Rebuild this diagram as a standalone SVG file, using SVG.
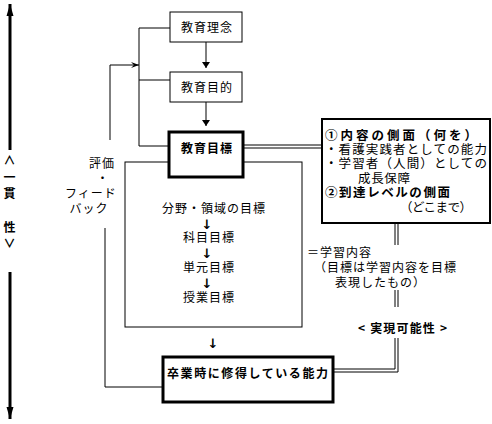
<svg xmlns="http://www.w3.org/2000/svg" width="492" height="424" viewBox="0 0 492 424">
<style>
text{font-family:"Noto Sans CJK JP","Noto Sans CJK SC",sans-serif;font-size:12px;fill:#000;letter-spacing:1px}
.b{font-weight:bold}
.m{text-anchor:middle}
.ar{font-family:"DejaVu Sans",sans-serif;font-size:13px;font-weight:bold;letter-spacing:0}
.r{font-size:12.5px;letter-spacing:0}
.ln{stroke:#000;stroke-width:1;fill:none}
.box{fill:#fff;stroke:#000;stroke-width:1}
.tbox{fill:#fff;stroke:#000;stroke-width:3}
.rbox{fill:#fff;stroke:#000;stroke-width:2}
</style>
<defs>
<marker id="ah" viewBox="0 0 6 10" refX="6" refY="5" markerWidth="6" markerHeight="10" orient="auto" markerUnits="userSpaceOnUse"><path d="M0,1 L6,5 L0,9 z" fill="#000"/></marker>
<marker id="bh" viewBox="0 0 12 8" refX="12" refY="4" markerWidth="12" markerHeight="8" orient="auto" markerUnits="userSpaceOnUse"><path d="M0,0.5 L12,4 L0,7.5 z" fill="#000"/></marker>
<marker id="fh" viewBox="0 0 8 8" refX="8" refY="4" markerWidth="8" markerHeight="8" orient="auto" markerUnits="userSpaceOnUse"><path d="M0,1 L8,4 L0,7 L3,4 z" fill="#000"/></marker>
</defs>
<rect width="492" height="424" fill="#fff"/>
<g id="connectors">
<line class="ln" x1="10" y1="150" x2="10" y2="4" style="stroke-width:3" marker-end="url(#bh)"/>
<line class="ln" x1="10" y1="272" x2="10" y2="419" style="stroke-width:3" marker-end="url(#bh)"/>
<path class="ln" d="M170,28 H139 V146 H169"/>
<line class="ln" x1="139" y1="80" x2="170" y2="80"/>
<path class="ln" d="M110,140 V65 H139" marker-end="url(#fh)"/>
<path class="ln" d="M105,228 V387 H163"/>
<line class="ln" x1="206" y1="42" x2="206" y2="68" marker-end="url(#ah)"/>
<line class="ln" x1="206" y1="102" x2="206" y2="126" marker-end="url(#ah)"/>
<line class="ln" x1="206" y1="177" x2="206" y2="193" marker-end="url(#ah)"/>
<path class="ln" d="M243,145 H322 M243,148 H322"/>
<path class="ln" d="M395,223 V245 M398,223 V245 M395,290 V307 M398,290 V307"/>
<path class="ln" d="M395,338 V369 H333 M398,338 V372 H333"/>
</g>
<g id="scope">
<rect class="box" x="125" y="162" width="177" height="165"/>
<text class="m" x="214" y="213">分野・領域の目標</text>
<text class="m ar" x="207" y="229">↓</text>
<text class="m" x="209" y="242">科目目標</text>
<text class="m ar" x="207" y="258">↓</text>
<text class="m" x="209" y="272">単元目標</text>
<text class="m ar" x="207" y="288">↓</text>
<text class="m" x="209" y="302">授業目標</text>
</g>
<g id="n-rinen">
<rect class="box" x="170" y="12" width="72" height="30"/>
<text class="m" x="207" y="32">教育理念</text>
</g>
<g id="n-mokuteki">
<rect class="box" x="170" y="72" width="72" height="30"/>
<text class="m" x="207" y="92">教育目的</text>
</g>
<g id="n-mokuhyo">
<rect class="tbox" x="169" y="132" width="74" height="45"/>
<text class="m b" x="207" y="153">教育目標</text>
</g>
<g id="n-side">
<rect class="rbox" x="322" y="119" width="168" height="104"/>
<text class="b r" x="325" y="140" textLength="152">①内容の側面（何を）</text>
<text class="r" x="325" y="154" textLength="162">・看護実践者としての能力</text>
<text class="r" x="325" y="168" textLength="162">・学習者（人間）としての</text>
<text class="r" x="358" y="183" textLength="52">成長保障</text>
<text class="b r" x="325" y="197" textLength="125">②到達レベルの側面</text>
<text class="r" x="400" y="212" textLength="72">（どこまで）</text>
</g>
<g id="n-content">
<text x="307" y="257">＝学習内容</text>
<text x="314" y="272">（目標は学習内容を目標</text>
<text x="335" y="287">表現したもの）</text>
<text class="b" x="358" y="333" textLength="90">&lt;  実現可能性  &gt;</text>
</g>
<g id="n-feedback">
<text class="m" x="102" y="168">評価</text>
<text class="m" x="103" y="183">・</text>
<text class="m" x="91" y="198">フィード</text>
<text class="m" x="89" y="213">バック</text>
</g>
<g id="n-ikkan">
<text class="m b" x="10" y="165">∧</text>
<text class="m b" x="10" y="182">一</text>
<text class="m b" x="10" y="198">貫</text>
<text class="m b" x="10" y="232">性</text>
<text class="m b" x="10" y="248">∨</text>
</g>
<g id="n-arrow2">
<text class="m ar" x="213" y="348">↓</text>
</g>
<g id="n-sotsugyo">
<rect class="tbox" x="163" y="357" width="170" height="45"/>
<text class="b" x="167" y="378" textLength="162">卒業時に修得している能力</text>
</g>
</svg>
